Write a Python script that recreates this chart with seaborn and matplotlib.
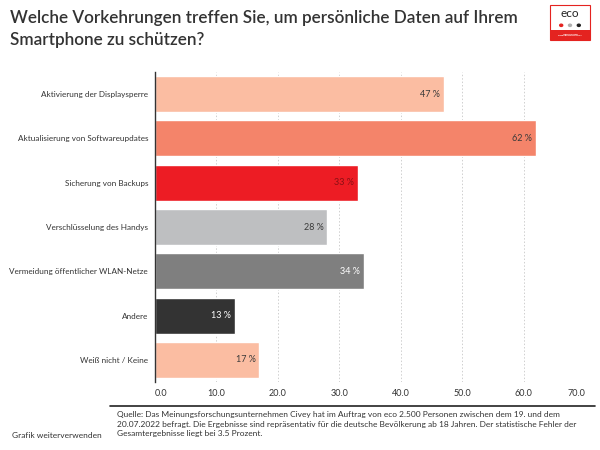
import matplotlib
matplotlib.use("Agg")
import matplotlib.pyplot as plt
import seaborn as sns
import pandas as pd
from matplotlib.patches import Rectangle, Circle

categories = [
    "Aktivierung der Displaysperre",
    "Aktualisierung von Softwareupdates",
    "Sicherung von Backups",
    "Verschlüsselung des Handys",
    "Vermeidung öffentlicher WLAN-Netze",
    "Andere",
    "Weiß nicht / Keine",
]
values = [47, 62, 33, 28, 34, 13, 17]
bar_colors = ["#FBBDA2", "#F4846A", "#ED1C24", "#BEBFC1", "#7F7F7F", "#333333", "#FBBDA2"]
label_colors = ["#3a3a3a", "#3a3a3a", "#8a1014", "#3a3a3a", "#ffffff", "#ffffff", "#3a3a3a"]
xticks = [0, 10, 20, 30, 40, 50, 60, 70]
xtick_labels = ["0.0", "10.0", "20.0", "30.0", "40.0", "50.0", "60.0", "70.0"]

title_lines = ["Welche Vorkehrungen treffen Sie, um persönliche Daten auf Ihrem",
               "Smartphone zu schützen?"]
source = ("Quelle: Das Meinungsforschungsunternehmen Civey hat im Auftrag von eco 2.500 Personen zwischen dem 19. und dem\n"
          "20.07.2022 befragt. Die Ergebnisse sind repräsentativ für die deutsche Bevölkerung ab 18 Jahren. Der statistische Fehler der\n"
          "Gesamtergebnisse liegt bei 3.5 Prozent.")
left_note = "Grafik weiterverwenden"

sns.set_theme(style="white")
plt.rcParams["font.family"] = ["Lato", "DejaVu Sans"]

df = pd.DataFrame({"cat": categories, "val": values})

fig = plt.figure(figsize=(6, 4.5), dpi=100)
ax = fig.add_axes([155/600, 1-382/450, 430/600, 310/450])

sns.barplot(data=df, x="val", y="cat", hue="cat", palette=bar_colors,
            legend=False, width=0.81, orient="h", ax=ax, saturation=1)

ax.set_xlim(0, 70)
ax.set_ylim(6.5, -0.5)
ax.set_xlabel("")
ax.set_ylabel("")

for x in xticks[1:]:
    ax.axvline(x, color="#cfcfcf", lw=0.7, ls=(0, (1.5, 2)), zorder=0)

ax.set_xticks(xticks)
ax.set_xticklabels(xtick_labels, fontsize=6.5, color="#333333")
tl = ax.get_xticklabels()
tl[0].set_ha("left")
tl[-1].set_ha("right")
ax.tick_params(axis="x", length=0, pad=5)
ax.tick_params(axis="y", length=0, pad=5)
for lab in ax.get_yticklabels():
    lab.set_fontsize(5.9)
    lab.set_color("#333333")

for s in ["top", "right", "bottom"]:
    ax.spines[s].set_visible(False)
ax.spines["left"].set_color("#333333")
ax.spines["left"].set_linewidth(1.0)

for i, (v, c) in enumerate(zip(values, label_colors)):
    ax.text(v - 0.6, i, f"{v} %", ha="right", va="center", fontsize=6.5, color=c)

fig.text(10/600, 1-18/450, title_lines[0], fontsize=12.3, fontweight="semibold", color="#333333",
         va="center", ha="left")
fig.text(10/600, 1-40/450, title_lines[1], fontsize=12.3, fontweight="semibold", color="#333333",
         va="center", ha="left")

# footer
fig.add_artist(plt.Line2D([110/600, 595/600], [1-406/450, 1-406/450], color="#222222", lw=1.2))
fig.text(117/600, 1-424/450, source, fontsize=6.0, color="#333333", va="center", ha="left", linespacing=1.45)
fig.text(12/600, 1-435/450, left_note, fontsize=6.0, color="#333333", va="center", ha="left")

# logo
lx0, ly0, lw, lh = 550/600, 1-40/450, 40/600, 35/450
fig.add_artist(Rectangle((lx0, ly0), lw, lh, transform=fig.transFigure, facecolor="white",
                         edgecolor="#e42320", lw=0.8))
fig.add_artist(Rectangle((lx0, ly0), lw, lh*0.3, transform=fig.transFigure, facecolor="#e42320",
                         edgecolor="none"))
fig.text(lx0 + lw/2, ly0 + lh*0.75, "eco", fontsize=8.5, color="#222222", ha="center", va="center")
for k, col in enumerate(["#e42320", "#b0b0b0", "#222222"]):
    fig.add_artist(Circle((lx0 + lw*(0.28 + 0.22*k), ly0 + lh*0.42), 0.0025,
                          transform=fig.transFigure, color=col))
fig.text(lx0 + lw/2, ly0 + lh*0.15, "VERBAND DER\nINTERNETWIRTSCHAFT", fontsize=1.6, color="white",
         ha="center", va="center", fontweight="bold")

fig.savefig("out.png", dpi=100)
